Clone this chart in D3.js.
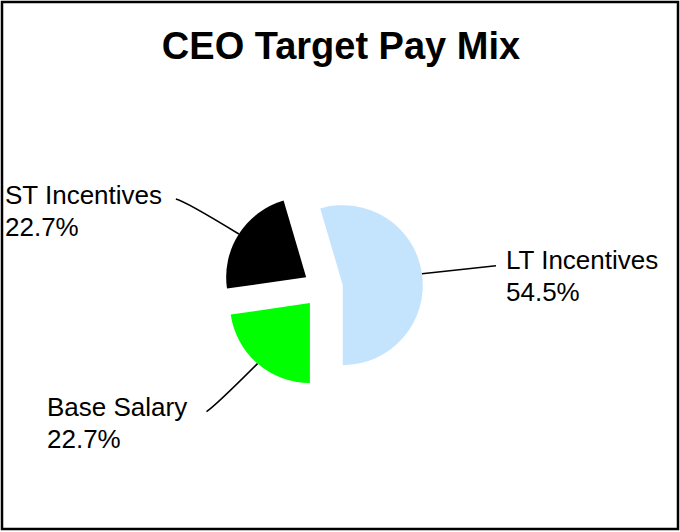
<!DOCTYPE html>
<html>
<head>
<meta charset="utf-8">
<script src="https://cdn.jsdelivr.net/npm/d3@7"></script>
<style>
  body { margin: 0; background: #fff; }
  text { font-family: "Liberation Sans", Arial, sans-serif; }
</style>
</head>
<body>
<div id="chart"></div>
<script>
let w = 680
let h = 532

// data
let categories = ["Base Salary", "ST Incentives", "LT Incentives"]
let values = [22.7, 22.7, 54.5]
let colors = ["#00FF00", "#000000", "#C4E4FE"]

let svg = d3.select("#chart")
  .append("svg")
  .attr("width", w)
  .attr("height", h)

// frame
svg.append("rect")
  .attr("x", 2).attr("y", 2)
  .attr("width", w - 4).attr("height", h - 5)
  .attr("fill", "#fff")
  .attr("stroke", "#000")
  .attr("stroke-width", 2.5)

svg.append("text")
  .attr("x", 341)
  .attr("y", 59)
  .attr("text-anchor", "middle")
  .attr("font-size", 38)
  .attr("font-weight", "bold")
  .text("CEO Target Pay Mix")

let cx = 323, cy = 288, r = 80, explode = 20

let pie = d3.pie()
  .sort(null)
  .startAngle(Math.PI)
  .endAngle(3 * Math.PI)

let arc = d3.arc().innerRadius(0).outerRadius(r)

let arcs = pie(values)

let dir = d => {
  let a = (d.startAngle + d.endAngle) / 2
  return [Math.sin(a), -Math.cos(a)]
}

let g = svg.append("g").attr("transform", "translate(" + cx + "," + cy + ")")

g.selectAll("path.slice")
  .data(arcs)
  .join("path")
  .attr("class", "slice")
  .attr("fill", (d, i) => colors[i])
  .attr("transform", d => {
    let [dx, dy] = dir(d)
    return "translate(" + dx * explode + "," + dy * explode + ")"
  })
  .attr("d", arc)

// label layout: leader bend and end relative to slice edge point, text anchor
let labelLayout = [
  { bend: [-42, 42], end: [-51, 48], tx: 47, ty: 416 },
  { bend: [-54, -33], end: [-63, -35], tx: 5, ty: 204 },
  { bend: [37, -4], end: [74, -8], tx: 506, ty: 269 }
]

arcs.forEach((d, i) => {
  let [dx, dy] = dir(d)
  let sx = cx + dx * (explode + r)
  let sy = cy + dy * (explode + r)
  let L = labelLayout[i]
  let p = d3.path()
  p.moveTo(sx, sy)
  p.quadraticCurveTo(sx + L.bend[0], sy + L.bend[1], sx + L.end[0], sy + L.end[1])
  svg.append("path")
    .attr("d", p.toString())
    .attr("fill", "none")
    .attr("stroke", "#000")
    .attr("stroke-width", 1.6)

  let t = svg.append("text")
    .attr("x", L.tx)
    .attr("y", L.ty)
    .attr("font-size", 26)
  t.append("tspan").attr("x", L.tx).text(categories[i])
  t.append("tspan").attr("x", L.tx).attr("dy", 32).text(values[i].toFixed(1) + "%")
})
</script>
</body>
</html>
